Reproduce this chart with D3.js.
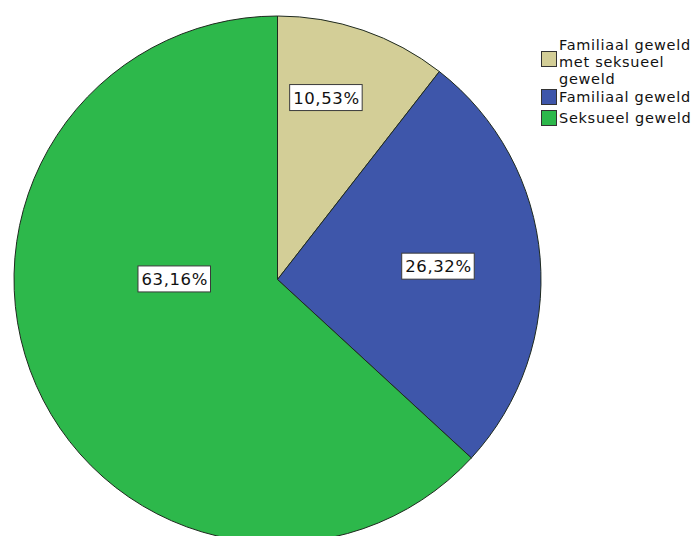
<!DOCTYPE html>
<html>
<head>
<meta charset="utf-8">
<script src="https://cdn.jsdelivr.net/npm/d3@7/dist/d3.min.js"></script>
<style>
  html, body { margin: 0; padding: 0; background: #ffffff; }
  svg { display: block; font-family: "DejaVu Sans", Verdana, sans-serif; }
</style>
</head>
<body>
<svg id="chart" width="699" height="536"></svg>
<script>
// Categories, counts and the percentage labels printed on each slice
const categories = ["Familiaal geweld met seksueel geweld", "Familiaal geweld", "Seksueel geweld"];
const legendLines = [["Familiaal geweld", "met seksueel", "geweld"], ["Familiaal geweld"], ["Seksueel geweld"]];
const counts = [2, 5, 12];
const percentLabels = ["10,53%", "26,32%", "63,16%"];
const colors = ["#d3ce97", "#3e56aa", "#2db84b"];

// Where each label box sits: fraction of the radius and an angular nudge (degrees)
const labelRadiusFrac = [0.715, 0.613, 0.39];
const labelAngleShift = [-3.9, 0, 24];

const W = 699, H = 536;
const cx = 277.5, cy = 279.5, R = 263.5;

const svg = d3.select("#chart");

const pie = d3.pie().sort(null).value(d => d.value);
const arcs = pie(counts.map((v, i) => ({ value: v, i })));
const arc = d3.arc().innerRadius(0).outerRadius(R);

const g = svg.append("g").attr("transform", `translate(${cx},${cy})`);

g.selectAll("path.slice")
  .data(arcs)
  .join("path")
  .attr("class", "slice")
  .attr("d", arc)
  .attr("fill", d => colors[d.data.i])
  .attr("stroke", "#1f2a1f")
  .attr("stroke-width", 1)
  .attr("stroke-linejoin", "round");

// Label boxes
const labels = g.selectAll("g.lbl")
  .data(arcs)
  .join("g")
  .attr("class", "lbl")
  .attr("transform", d => {
    const i = d.data.i;
    const a = (d.startAngle + d.endAngle) / 2 + labelAngleShift[i] * Math.PI / 180;
    const r = R * labelRadiusFrac[i];
    return `translate(${r * Math.sin(a)},${-r * Math.cos(a)})`;
  });

labels.each(function(d) {
  const sel = d3.select(this);
  const t = sel.append("text")
    .attr("text-anchor", "middle")
    .attr("dy", "0.36em")
    .attr("font-size", 16.5)
    .attr("letter-spacing", 0.6)
    .attr("fill", "#111")
    .text(percentLabels[d.data.i]);
  const bb = t.node().getBBox();
  sel.insert("rect", "text")
    .attr("x", bb.x - 3.5)
    .attr("y", -13)
    .attr("width", bb.width + 6)
    .attr("height", 26)
    .attr("fill", "#ffffff")
    .attr("stroke", "#3a3a3a")
    .attr("stroke-width", 1);
});

// Legend
const legend = svg.append("g").attr("transform", "translate(541,0)");
const itemTop = [37, 89, 110];
const swatchTop = [51, 89, 110];
const lineH = 17;

categories.forEach((c, i) => {
  legend.append("rect")
    .attr("x", 0.5)
    .attr("y", swatchTop[i] + 0.5)
    .attr("width", 15)
    .attr("height", 15)
    .attr("fill", colors[i])
    .attr("stroke", "#333")
    .attr("stroke-width", 1);
  const txt = legend.append("text")
    .attr("font-size", 14.5)
    .attr("letter-spacing", 0.7)
    .attr("fill", "#111");
  legendLines[i].forEach((ln, j) => {
    txt.append("tspan")
      .attr("x", 18)
      .attr("y", itemTop[i] + 13 + j * lineH)
      .text(ln);
  });
});
</script>
</body>
</html>
